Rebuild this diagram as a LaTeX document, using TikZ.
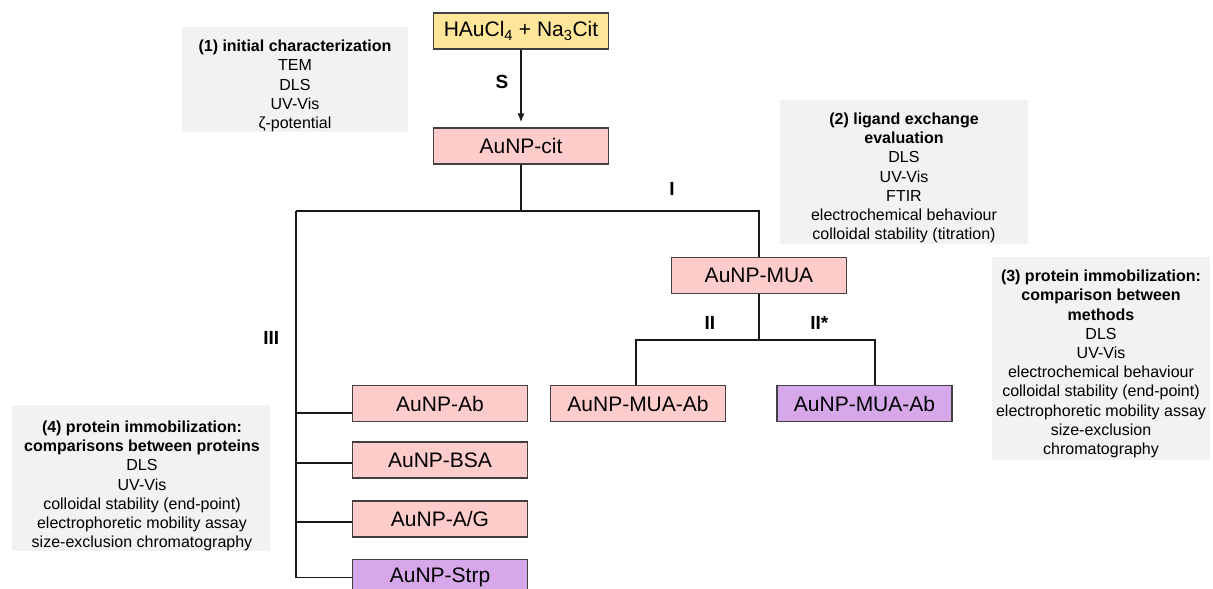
\documentclass[tikz,border=0pt]{standalone}
\usepackage{fontspec}
\setmainfont{Liberation Sans}
\usepackage{xcolor}
\usetikzlibrary{positioning,arrows.meta,calc}
\definecolor{goldfill}{HTML}{FFE699}
\definecolor{pinkfill}{HTML}{FFCCCC}
\definecolor{lilacfill}{HTML}{D6A8EA}
\definecolor{notefill}{HTML}{F2F2F2}
\tikzset{
  link/.style={line width=1.6pt, draw=black!90},
  every node/.style={anchor=center}
}

\begin{document}
\begin{tikzpicture}[
  x=1pt, y=-1pt,
  samplebox/.style={draw=black!75, line width=1.1pt, fill=pinkfill, minimum width=175pt, minimum height=36pt, inner sep=0pt, font=\fontsize{21}{25}\selectfont},
  notepad/.style={fill=notefill},
  notetext/.style={align=center, inner sep=0pt, font=\fontsize{16}{19.2}\selectfont},
  routelabel/.style={inner sep=0pt, font=\fontsize{19}{22}\selectfont\bfseries}
]
\useasboundingbox (0,0) rectangle (1213,589);

% grey method panels
\fill[notepad] (182,27) rectangle (408,132);
\fill[notepad] (780,100) rectangle (1028,244);
\fill[notepad] (992,257) rectangle (1210,460);
\fill[notepad] (12,405) rectangle (270,551);
\node[notetext] (char1) at (295,86) {\textbf{(1) initial characterization}\\TEM\\DLS\\UV-Vis\\ζ-potential};
\node[notetext] (lig2) at (904,178) {\textbf{(2) ligand exchange}\\\textbf{evaluation}\\DLS\\UV-Vis\\FTIR\\electrochemical behaviour\\colloidal stability (titration)};
\node[notetext] (meth3) at (1101,364) {\textbf{(3) protein immobilization:}\\\textbf{comparison between}\\\textbf{methods}\\DLS\\UV-Vis\\electrochemical behaviour\\colloidal stability (end-point)\\electrophoretic mobility assay\\size-exclusion\\chromatography};
\node[notetext] (prot4) at (142,486) {\textbf{(4) protein immobilization:}\\\textbf{comparisons between proteins}\\DLS\\UV-Vis\\colloidal stability (end-point)\\electrophoretic mobility assay\\size-exclusion chromatography};

% synthesis and ligand exchange
\node[samplebox, fill=goldfill] (hau) at (521,31) {HAuCl\textsubscript{4} + Na\textsubscript{3}Cit};
\node[samplebox] (cit) at (521,146) {AuNP-cit};
\node[samplebox] (mua) at (759,275.5) {AuNP-MUA};
\node[samplebox] (muaab) at (638,403.5) {AuNP-MUA-Ab};
\node[samplebox, fill=lilacfill] (muaabs) at (864.5,403.5) {AuNP-MUA-Ab};

% direct immobilization column
\node[samplebox] (ab) at (440,403.5) {AuNP-Ab};
\node[samplebox] (bsa) at (440,460) {AuNP-BSA};
\node[samplebox] (ag) at (440,519) {AuNP-A/G};
\node[samplebox, fill=lilacfill] (strp) at (440,577.5) {AuNP-Strp};

\coordinate (trunk) at (296,211);
\coordinate (lvl2) at (0,340);

% connectors
\draw[link, -{Latex[length=9pt,width=7pt]}, shorten >=5pt] (hau) -- node[routelabel, left=12pt, pos=0.42] {S} (cit);
\draw[link] (cit.south) -- (cit.south |- trunk);
\draw[link] (trunk) -| node[routelabel, pos=0.406, above=15pt] {I} (mua.north);
\draw[link] (trunk) -- node[routelabel, left=16pt, pos=0.347] {III} (trunk |- strp.west) -- (strp.west);
\draw[link] ([yshift=-9.5pt]ab.west) -- ([yshift=-9.5pt]ab.west -| trunk);
\draw[link] ([yshift=-3pt]bsa.west) -- ([yshift=-3pt]bsa.west -| trunk);
\draw[link] ([yshift=-3pt]ag.west) -- ([yshift=-3pt]ag.west -| trunk);
\draw[link] (mua.south) -- (mua.south |- lvl2);
\draw[link] ([xshift=-2pt]muaab.north) |- node[routelabel, pos=0.8, above=10pt] {II} (mua.south |- lvl2);
\draw[link] ([xshift=10.5pt]muaabs.north) |- node[routelabel, pos=0.74, above=10pt] {II*} (mua.south |- lvl2);

\end{tikzpicture}
\end{document}
